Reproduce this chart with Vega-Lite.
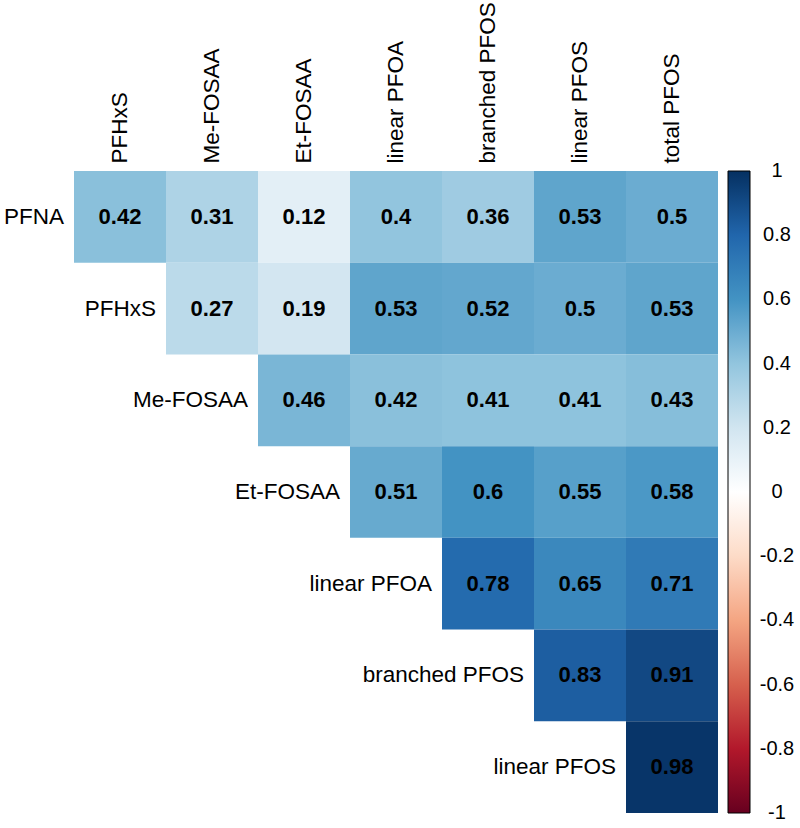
{
  "$schema": "https://vega.github.io/schema/vega-lite/v6.json",
  "autosize": {"type": "none"},
  "padding": {"left": 74, "top": 171, "right": 82, "bottom": 15},
  "width": 644,
  "height": 642,
  "background": "white",
  "config": {
    "view": {"stroke": null},
    "font": "Liberation Sans",
    "axis": {"labelFont": "Liberation Sans"},
    "legend": {"labelFont": "Liberation Sans"}
  },
  "datasets": {
    "cells": [
      {"row": "PFNA", "col": "PFHxS", "r": 0.42},
      {"row": "PFNA", "col": "Me-FOSAA", "r": 0.31},
      {"row": "PFNA", "col": "Et-FOSAA", "r": 0.12},
      {"row": "PFNA", "col": "linear PFOA", "r": 0.4},
      {"row": "PFNA", "col": "branched PFOS", "r": 0.36},
      {"row": "PFNA", "col": "linear PFOS", "r": 0.53},
      {"row": "PFNA", "col": "total PFOS", "r": 0.5},
      {"row": "PFHxS", "col": "Me-FOSAA", "r": 0.27},
      {"row": "PFHxS", "col": "Et-FOSAA", "r": 0.19},
      {"row": "PFHxS", "col": "linear PFOA", "r": 0.53},
      {"row": "PFHxS", "col": "branched PFOS", "r": 0.52},
      {"row": "PFHxS", "col": "linear PFOS", "r": 0.5},
      {"row": "PFHxS", "col": "total PFOS", "r": 0.53},
      {"row": "Me-FOSAA", "col": "Et-FOSAA", "r": 0.46},
      {"row": "Me-FOSAA", "col": "linear PFOA", "r": 0.42},
      {"row": "Me-FOSAA", "col": "branched PFOS", "r": 0.41},
      {"row": "Me-FOSAA", "col": "linear PFOS", "r": 0.41},
      {"row": "Me-FOSAA", "col": "total PFOS", "r": 0.43},
      {"row": "Et-FOSAA", "col": "linear PFOA", "r": 0.51},
      {"row": "Et-FOSAA", "col": "branched PFOS", "r": 0.6},
      {"row": "Et-FOSAA", "col": "linear PFOS", "r": 0.55},
      {"row": "Et-FOSAA", "col": "total PFOS", "r": 0.58},
      {"row": "linear PFOA", "col": "branched PFOS", "r": 0.78},
      {"row": "linear PFOA", "col": "linear PFOS", "r": 0.65},
      {"row": "linear PFOA", "col": "total PFOS", "r": 0.71},
      {"row": "branched PFOS", "col": "linear PFOS", "r": 0.83},
      {"row": "branched PFOS", "col": "total PFOS", "r": 0.91},
      {"row": "linear PFOS", "col": "total PFOS", "r": 0.98}
    ],
    "rowlabels": [
      {"row": "PFNA", "col": "PFHxS"},
      {"row": "PFHxS", "col": "Me-FOSAA"},
      {"row": "Me-FOSAA", "col": "Et-FOSAA"},
      {"row": "Et-FOSAA", "col": "linear PFOA"},
      {"row": "linear PFOA", "col": "branched PFOS"},
      {"row": "branched PFOS", "col": "linear PFOS"},
      {"row": "linear PFOS", "col": "total PFOS"}
    ]
  },
  "layer": [
    {
      "data": {"name": "cells"},
      "mark": {"type": "rect", "strokeWidth": 0},
      "encoding": {
        "x": {
          "field": "col", "type": "nominal",
          "scale": {"domain": ["PFHxS", "Me-FOSAA", "Et-FOSAA", "linear PFOA", "branched PFOS", "linear PFOS", "total PFOS"], "paddingInner": 0, "paddingOuter": 0},
          "axis": {"orient": "top", "title": null, "labelAngle": -90, "labelFontSize": 22.5, "labelColor": "black", "labelPadding": 8, "domain": false, "ticks": false}
        },
        "y": {
          "field": "row", "type": "nominal",
          "scale": {"domain": ["PFNA", "PFHxS", "Me-FOSAA", "Et-FOSAA", "linear PFOA", "branched PFOS", "linear PFOS"], "paddingInner": 0, "paddingOuter": 0},
          "axis": null
        },
        "color": {
          "field": "r", "type": "quantitative",
          "scale": {
            "domain": [-1, -0.8, -0.6, -0.4, -0.2, 0, 0.2, 0.4, 0.6, 0.8, 1],
            "range": ["#67001F", "#B2182B", "#D6604D", "#F4A582", "#FDDBC7", "#FFFFFF", "#D1E5F0", "#92C5DE", "#4393C3", "#2166AC", "#053061"],
            "interpolate": "rgb"
          },
          "legend": {
            "title": null,
            "orient": "none",
            "legendX": 654,
            "legendY": 0,
            "direction": "vertical",
            "gradientLength": 642,
            "gradientThickness": 22,
            "gradientStrokeColor": "#000000",
            "gradientStrokeWidth": 1,
            "values": [1, 0.8, 0.6, 0.4, 0.2, 0, -0.2, -0.4, -0.6, -0.8, -1],
            "labelFontSize": 20,
            "labelColor": "black",
            "labelOffset": 27,
            "labelOverlap": false,
            "labelExpr": "'' + datum.value",
            "encode": {"labels": {"update": {"align": {"value": "center"}, "baseline": {"value": "middle"}}}}
          }
        }
      }
    },
    {
      "data": {"name": "cells"},
      "mark": {"type": "text", "fontSize": 22, "fontWeight": "bold", "color": "black", "baseline": "middle", "align": "center"},
      "encoding": {
        "x": {"field": "col", "type": "nominal"},
        "y": {"field": "row", "type": "nominal"},
        "text": {"field": "r", "type": "quantitative", "format": "~g"}
      }
    },
    {
      "data": {"name": "rowlabels"},
      "mark": {"type": "text", "fontSize": 22.5, "color": "black", "baseline": "middle", "align": "right", "dx": -10},
      "encoding": {
        "x": {"field": "col", "type": "nominal", "bandPosition": 0},
        "y": {"field": "row", "type": "nominal"},
        "text": {"field": "row", "type": "nominal"}
      }
    }
  ]
}
